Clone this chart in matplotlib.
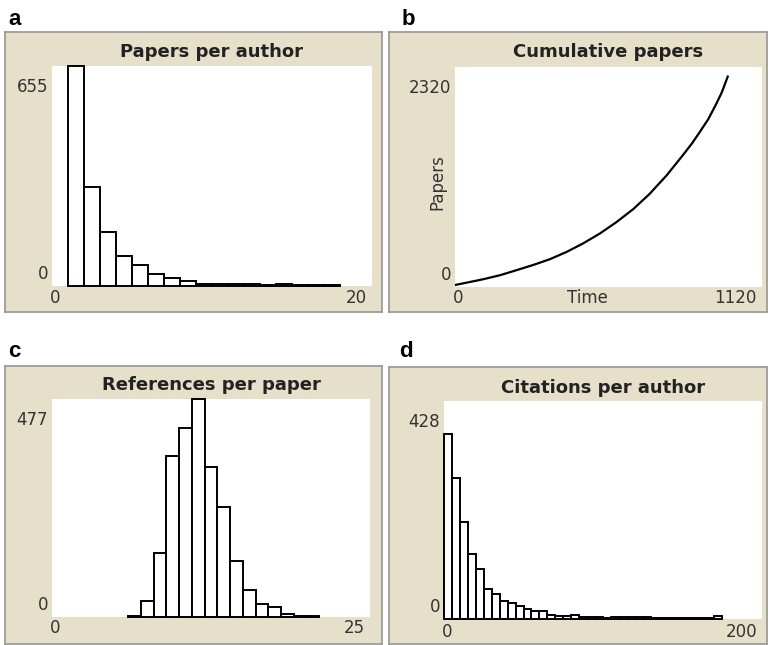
import matplotlib
matplotlib.use('Agg')
import matplotlib.pyplot as plt

# a: papers per author (bins of width 1, starting at 1)
papers_bins = list(range(1, 18))
papers_counts = [655, 296, 161, 90, 62, 37, 25, 14, 7, 7, 7, 7, 3, 7, 2, 2, 2]

# b: cumulative papers over time
time_pts = [0, 43, 103, 164, 224, 286, 346, 408, 467, 529, 588, 651, 710,
            772, 831, 864, 892, 924, 952, 973, 995]
cum_papers = [21, 46, 82, 124, 177, 233, 293, 371, 459, 565, 682, 823, 982,
              1177, 1389, 1512, 1630, 1770, 1925, 2050, 2219]

# c: references per paper (bins of width 1)
refs_bins = list(range(6, 21))
refs_counts = [2, 34, 141, 352, 414, 477, 328, 240, 122, 59, 29, 21, 7, 2, 2]

# d: citations per author (bins of width 5)
cites_bins = list(range(0, 175, 5))
cites_counts = [364, 276, 191, 128, 98, 58, 50, 36, 31, 26, 20, 15, 15, 8, 6, 5, 8, 3,
                3, 3, 1, 3, 3, 3, 3, 3, 1, 1, 1, 1, 1, 1, 1, 1, 5]

W, H = 768, 645
BEIGE = "#e6e0cb"
TXT = "#333333"
fig = plt.figure(figsize=(W / 100, H / 100), dpi=100)


def box(x0, y0, x1, y1):
    return [x0 / W, 1 - y1 / H, (x1 - x0) / W, (y1 - y0) / H]


def px(x, y):
    return x / W, 1 - y / H


def panel(frame, plot, title, title_y, letter, letter_xy):
    outer = fig.add_axes(box(*frame))
    outer.set_facecolor(BEIGE)
    outer.set_xticks([]); outer.set_yticks([])
    for s in outer.spines.values():
        s.set_color("#9c9c9c"); s.set_linewidth(1.3)
    ax = fig.add_axes(box(*plot))
    ax.set_facecolor("white")
    ax.set_xticks([]); ax.set_yticks([])
    for s in ax.spines.values():
        s.set_visible(False)
    fig.text(*px((plot[0] + plot[2]) / 2, title_y), title, ha="center", va="center",
             fontsize=13, fontweight="bold", color="#222222")
    fig.text(*px(*letter_xy), letter, ha="left", va="baseline",
             fontsize=16, fontweight="bold", family="Liberation Sans")
    return ax


def labels(plot, ymax_lbl, xmin_lbl, xmax_lbl, xlab_y):
    x0, y0, x1, y1 = plot
    kw = dict(fontsize=12, color=TXT)
    fig.text(*px(x0 - 4, y0 + 21), ymax_lbl, ha="right", va="center", **kw)
    fig.text(*px(x0 - 4, y1 - 12), "0", ha="right", va="center", **kw)
    fig.text(*px(x0 + 3, xlab_y), xmin_lbl, ha="center", va="center", **kw)
    fig.text(*px(x1 - 5, xlab_y), xmax_lbl, ha="right", va="center", **kw)


def hist(ax, bins, counts, width, xmax, ymax):
    ax.bar(bins, counts, width=width, align="edge", facecolor="white",
           edgecolor="black", linewidth=1.4, clip_on=False)
    ax.set_xlim(0, xmax)
    ax.set_ylim(0, ymax)


# a
pa = (52, 66, 372, 286)
ax = panel((5, 32, 382, 312), pa, "Papers per author", 52, "a", (8, 25))
hist(ax, papers_bins, papers_counts, 1, 20, 655)
labels(pa, "655", "0", "20", 298)

# b
pb = (455, 67, 762, 287)
ax = panel((389, 32, 767, 312), pb, "Cumulative papers", 52, "b", (402, 25))
ax.plot(time_pts, cum_papers, color="black", lw=1.6)
ax.set_xlim(0, 1120)
ax.set_ylim(0, 2320)
labels(pb, "2320", "0", "1120", 298)
fig.text(*px(437, 182), "Papers", rotation=90, ha="center", va="center", fontsize=12, color=TXT)
fig.text(*px(587, 298), "Time", ha="center", va="center", fontsize=12, color=TXT)

# c
pc = (52, 399, 370, 617)
ax = panel((5, 366, 382, 644), pc, "References per paper", 385, "c", (8, 357))
hist(ax, refs_bins, refs_counts, 1, 25, 477)
labels(pc, "477", "0", "25", 628)

# d
pd_ = (444, 401, 762, 619)
ax = panel((389, 367, 767, 644), pd_, "Citations per author", 388, "d", (399, 357))
hist(ax, cites_bins, cites_counts, 5, 200, 428)
labels(pd_, "428", "0", "200", 632)

plt.savefig("out.png", dpi=100)
plt.close()
